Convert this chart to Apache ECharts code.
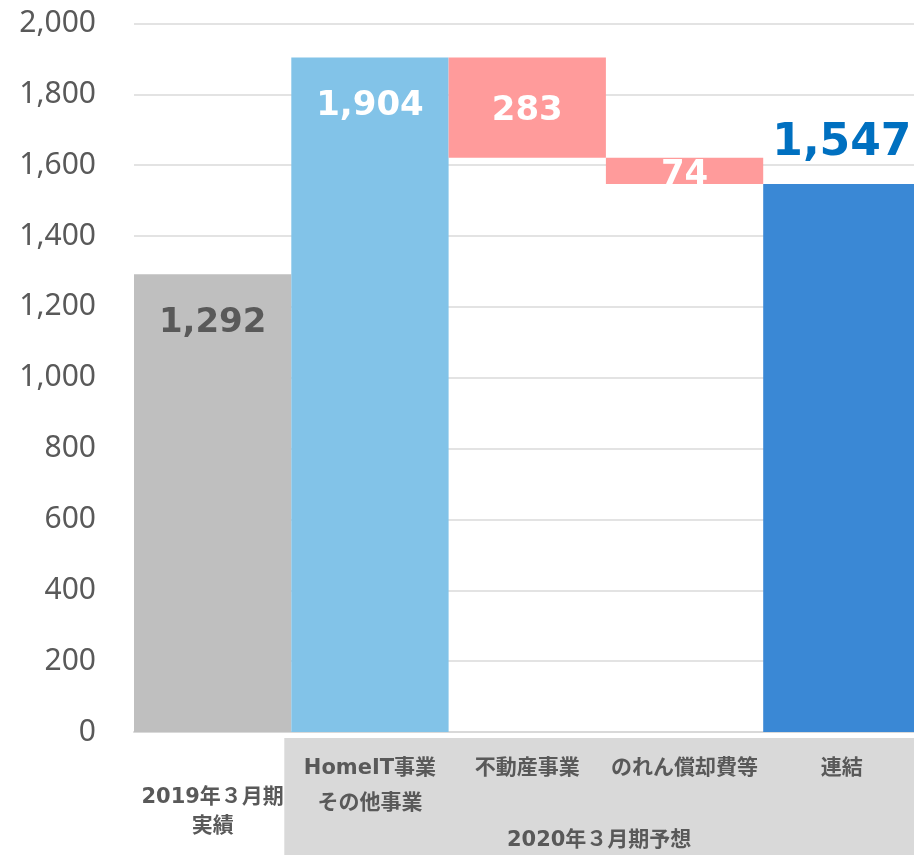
<!DOCTYPE html>
<html>
<head>
<meta charset="utf-8">
<script src="https://cdn.jsdelivr.net/npm/echarts@6/dist/echarts.min.js"></script>
<style>
html,body{margin:0;padding:0;background:#fff;}
#chart{width:914px;height:855px;}
</style>
</head>
<body>
<div id="chart"></div>
<script>
var categories = ['2019年３月期\n実績', 'HomeIT事業\nその他事業', '不動産事業', 'のれん償却費等', '連結'];
var groupLabel = '2020年３月期予想';
var values = [1292, 1904, 283, 74, 1547];
var bases = [0, 0, 1621, 1547, 0];
var yTicks = [0, 2000, 200];

var colors = ['#bfbfbf', '#82c3e8', '#ff9b9b', '#ff9b9b', '#3a88d5'];
var labelColors = ['#595959', '#ffffff', '#ffffff', '#ffffff', '#0070c0'];
var labelPos = ['insideTop', 'insideTop', 'inside', 'inside', 'top'];
var labelDist = [32, 32, 5, 5, 18];
var labelOffset = [[0, 0], [0, 0], [0, 4], [0, 4], [0, 0]];
var labelSize = [34, 34, 34, 34, 44];

var numFont = '"DejaVu Sans", "Noto Sans CJK JP", sans-serif';
var catFont = '"DejaVu Sans", "Noto Sans CJK JP", sans-serif';

var chart = echarts.init(document.getElementById('chart'));

var valueData = values.map(function (v, i) {
  return {
    value: v,
    itemStyle: { color: colors[i] },
    label: {
      show: true,
      position: labelPos[i],
      distance: labelDist[i],
      offset: labelOffset[i],
      color: labelColors[i],
      fontSize: labelSize[i],
      fontWeight: 'bold',
      fontFamily: numFont,
      formatter: function (p) { return p.value.toLocaleString('en-US'); }
    }
  };
});

var option = {
  animation: false,
  grid: { left: 134, top: 23.5, width: 786.5, height: 708.5, containLabel: false, outerBoundsMode: 'none' },
  xAxis: {
    type: 'category',
    data: categories,
    axisTick: { show: false },
    axisLine: { show: true, lineStyle: { color: '#d9d9d9', width: 2 } },
    axisLabel: {
      interval: 0,
      margin: 19,
      formatter: function (v, i) {
        var lines = v.split('\n');
        if (i === 0) {
          return '{gap| }\n' + lines.map(function (l) { return '{a|' + l + '}'; }).join('\n');
        }
        return lines.map(function (l) { return '{b|' + l + '}'; }).join('\n');
      },
      rich: {
        gap: { lineHeight: 32, fontSize: 10 },
        a: { lineHeight: 29, fontSize: 21, fontWeight: 'bold', color: '#595959', fontFamily: catFont },
        b: { lineHeight: 35, fontSize: 21, fontWeight: 'bold', color: '#595959', fontFamily: catFont }
      }
    }
  },
  yAxis: {
    type: 'value',
    min: yTicks[0],
    max: yTicks[1],
    interval: yTicks[2],
    axisLine: { show: false },
    axisTick: { show: false },
    splitLine: { lineStyle: { color: '#e3e3e3', width: 2 } },
    axisLabel: {
      margin: 38,
      fontSize: 30,
      color: '#595959',
      fontFamily: '"Noto Sans", sans-serif',
      formatter: function (v) { return v.toLocaleString('en-US'); }
    }
  },
  series: [
    {
      type: 'bar',
      stack: 'w',
      data: bases,
      itemStyle: { color: 'transparent' },
      barCategoryGap: 0,
      silent: true
    },
    {
      type: 'bar',
      stack: 'w',
      data: valueData,
      barCategoryGap: 0
    }
  ]
};
chart.setOption(option);

// grey group box under the forecast categories
var c1 = chart.convertToPixel({ xAxisIndex: 0 }, 1);
var c0 = chart.convertToPixel({ xAxisIndex: 0 }, 0);
var band = c1 - c0;
var y0 = chart.convertToPixel({ yAxisIndex: 0 }, 0);
var boxX = c1 - band / 2 - 7;
var boxY = y0 + 6;
var boxW = 914 - boxX;
var boxH = 855 - boxY;
chart.setOption({
  graphic: [
    {
      type: 'rect',
      z: -10,
      shape: { x: boxX, y: boxY, width: boxW, height: boxH },
      style: { fill: '#d9d9d9' }
    },
    {
      type: 'text',
      z: 10,
      x: boxX + boxW / 2,
      y: 841,
      style: {
        text: groupLabel,
        fill: '#595959',
        fontSize: 21,
        fontWeight: 'bold',
        fontFamily: catFont,
        align: 'center',
        verticalAlign: 'middle'
      }
    }
  ]
});
</script>
</body>
</html>
